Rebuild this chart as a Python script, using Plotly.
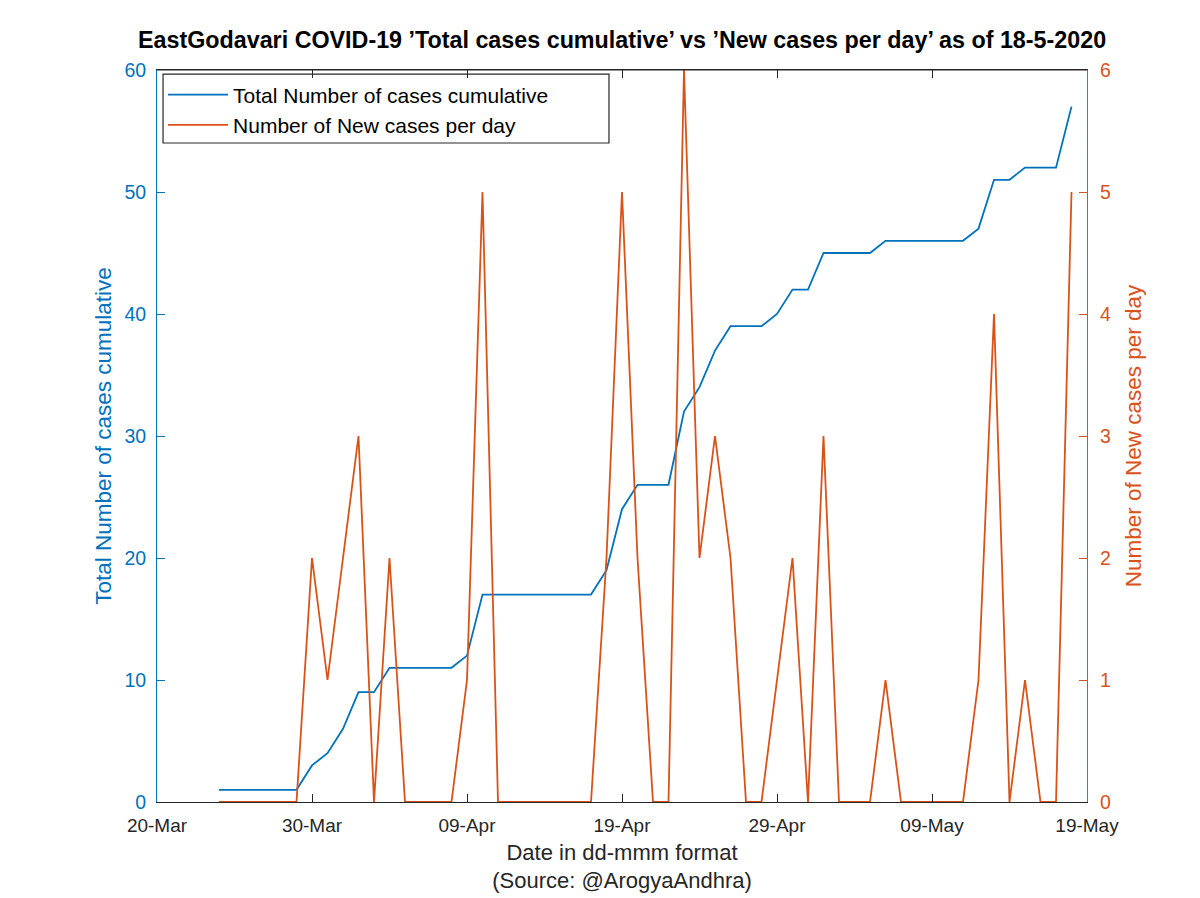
import plotly.graph_objects as go

dates = [
    "2020-03-24", "2020-03-25", "2020-03-26", "2020-03-27", "2020-03-28", "2020-03-29", "2020-03-30", "2020-03-31",
    "2020-04-01", "2020-04-02", "2020-04-03", "2020-04-04", "2020-04-05", "2020-04-06", "2020-04-07", "2020-04-08",
    "2020-04-09", "2020-04-10", "2020-04-11", "2020-04-12", "2020-04-13", "2020-04-14", "2020-04-15", "2020-04-16",
    "2020-04-17", "2020-04-18", "2020-04-19", "2020-04-20", "2020-04-21", "2020-04-22", "2020-04-23", "2020-04-24",
    "2020-04-25", "2020-04-26", "2020-04-27", "2020-04-28", "2020-04-29", "2020-04-30",
    "2020-05-01", "2020-05-02", "2020-05-03", "2020-05-04", "2020-05-05", "2020-05-06", "2020-05-07", "2020-05-08",
    "2020-05-09", "2020-05-10", "2020-05-11", "2020-05-12", "2020-05-13", "2020-05-14", "2020-05-15", "2020-05-16",
    "2020-05-17", "2020-05-18",
]
cumulative = [
    1, 1, 1, 1, 1, 1, 3, 4,
    6, 9, 9, 11, 11, 11, 11, 11,
    12, 17, 17, 17, 17, 17, 17, 17,
    17, 19, 24, 26, 26, 26, 32, 34,
    37, 39, 39, 39, 40, 42,
    42, 45, 45, 45, 45, 46, 46, 46,
    46, 46, 46, 47, 51, 51, 52, 52,
    52, 57,
]
new_cases = [
    0, 0, 0, 0, 0, 0, 2, 1,
    2, 3, 0, 2, 0, 0, 0, 0,
    1, 5, 0, 0, 0, 0, 0, 0,
    0, 2, 5, 2, 0, 0, 6, 2,
    3, 2, 0, 0, 1, 2,
    0, 3, 0, 0, 0, 1, 0, 0,
    0, 0, 0, 1, 4, 0, 1, 0,
    0, 5,
]
tick_dates = ["2020-03-20", "2020-03-30", "2020-04-09", "2020-04-19", "2020-04-29", "2020-05-09", "2020-05-19"]
tick_labels = ["20-Mar", "30-Mar", "09-Apr", "19-Apr", "29-Apr", "09-May", "19-May"]

BLUE = "#0072BD"
ORANGE = "#D95319"
DARK = "#262626"
FONT = "Liberation Sans, Arial, sans-serif"

fig = go.Figure()
fig.add_trace(go.Scatter(x=dates, y=cumulative, mode="lines", name="Total Number of cases cumulative",
                         line=dict(color=BLUE, width=1.8), yaxis="y"))
fig.add_trace(go.Scatter(x=dates, y=new_cases, mode="lines", name="Number of New cases per day",
                         line=dict(color=ORANGE, width=1.8), yaxis="y2"))

fig.update_layout(
    width=1200, height=898,
    margin=dict(l=149, r=121, t=62, b=104),
    paper_bgcolor="white", plot_bgcolor="white",
    font=dict(family=FONT, size=19, color=DARK),
    title=dict(text="EastGodavari COVID-19 ’Total cases cumulative’ vs ’New cases per day’ as of 18-5-2020",
               x=0.5117, xanchor="center", y=0.9644, yanchor="middle",
               font=dict(family=FONT, size=23.3, color="black", weight="bold")),
    xaxis=dict(type="date", range=["2020-03-20", "2020-05-19"], tickvals=tick_dates, ticktext=tick_labels,
               showgrid=False, zeroline=False, showline=True, linecolor=DARK, linewidth=1,
               mirror="ticks", ticks="inside", ticklen=8, tickcolor=DARK,
               tickfont=dict(size=19, color=DARK), ticklabelstandoff=6,
               title=dict(text="Date in dd-mmm format<br>(Source: @ArogyaAndhra)",
                          font=dict(size=22, color=DARK), standoff=9)),
    yaxis=dict(range=[0, 60], dtick=10, showgrid=False, zeroline=False, showline=True,
               linecolor=BLUE, linewidth=1, ticks="inside", ticklen=8, tickcolor=BLUE,
               tickfont=dict(size=19.5, color=BLUE), ticklabelstandoff=6,
               title=dict(text="Total Number of cases cumulative", font=dict(size=22.5, color=BLUE), standoff=6)),
    yaxis2=dict(range=[0, 6], dtick=1, overlaying="y", side="right", showgrid=False, zeroline=False,
                showline=True, linecolor=ORANGE, linewidth=1, ticks="inside", ticklen=8, tickcolor=ORANGE,
                tickfont=dict(size=19.5, color=ORANGE), ticklabelstandoff=8,
                title=dict(text="Number of New cases per day", font=dict(size=22.5, color=ORANGE), standoff=15)),
    legend=dict(x=0.0065, y=0.994, xanchor="left", yanchor="top", bgcolor="rgba(0,0,0,0)",
                borderwidth=0, font=dict(size=21, color="black"),
                itemwidth=60, tracegroupgap=2),
    showlegend=True,
)
# legend frame (MATLAB-style wide box)
fig.add_shape(type="rect", xref="paper", yref="paper", x0=0.0065, x1=0.486, y0=0.9003, y1=0.9945,
              line=dict(color=DARK, width=1.2), fillcolor="white", layer="below")
fig.add_shape(type="line", xref="paper", yref="paper", x0=0, x1=1, y0=1, y1=1,
              line=dict(color=DARK, width=1))

fig.write_html("out.html")
